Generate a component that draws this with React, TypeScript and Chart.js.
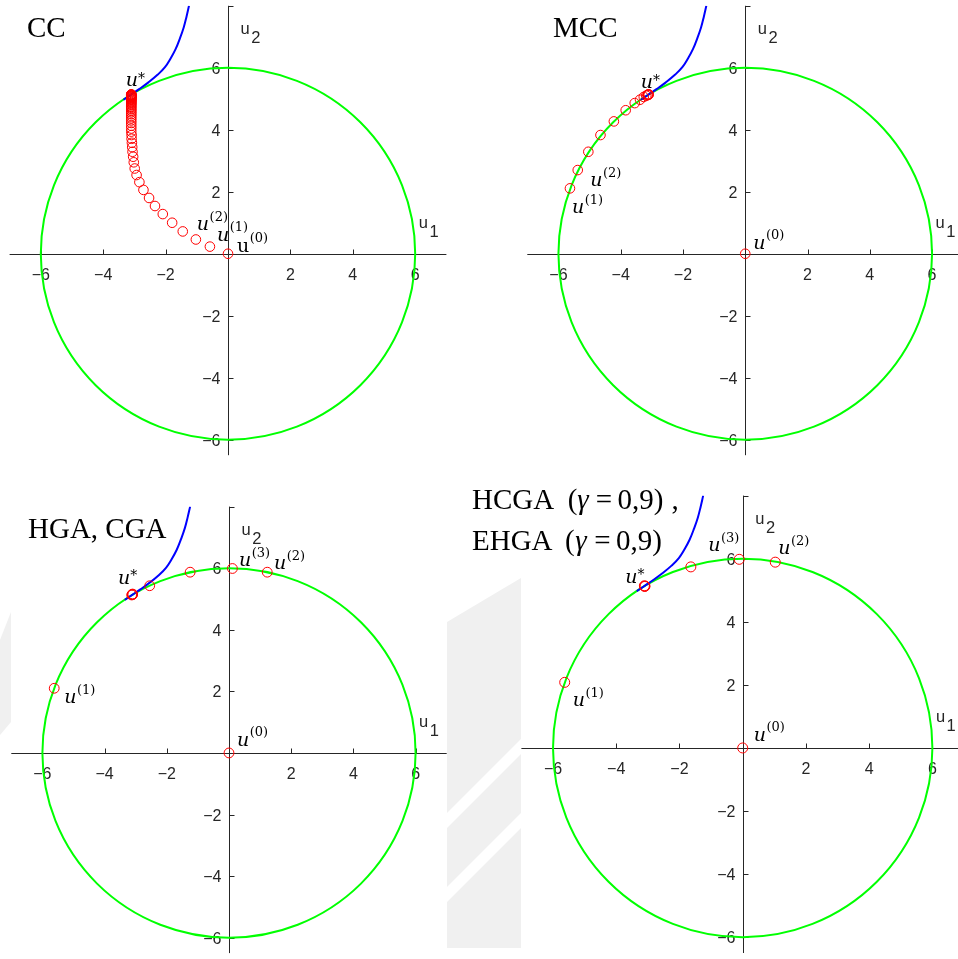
import React, { useEffect, useRef } from 'react';
import { Chart, registerables } from 'chart.js';

Chart.register(...registerables);

// ---------- axes ----------
const u1Limits = [-7, 7];
const u2Limits = [-6.5, 8];
const xTickValues = [-6, -4, -2, 2, 4, 6];
const yTickValues = [-6, -4, -2, 2, 4, 6];
const yTopTick = 8;
const constraintRadius = 6;

// ---------- level curve of the objective through u* ----------
const levelU1 = [-3.35, -3.1, -2.85, -2.55, -2.25, -2.02, -1.84, -1.68, -1.54, -1.42, -1.33, -1.25];
const levelU2 = [4.97, 5.14, 5.31, 5.53, 5.78, 6.02, 6.3, 6.6, 6.95, 7.3, 7.65, 8.0];

// ---------- iterates of each method ----------
const ccU1 = [
  0, -0.58, -1.03, -1.45, -1.79, -2.09, -2.34, -2.53, -2.71, -2.84,
  -2.93, -2.99, -3.02, -3.04, -3.06, -3.07, -3.08, -3.09, -3.09, -3.1,
  -3.1, -3.1, -3.1, -3.1, -3.1, -3.1, -3.1, -3.1, -3.1, -3.1,
  -3.1, -3.1, -3.1, -3.1, -3.1, -3.1, -3.1, -3.1, -3.1, -3.1,
  -3.1, -3.1, -3.1, -3.1, -3.1, -3.1, -3.1, -3.1, -3.1, -3.1,
  -3.1, -3.1, -3.1, -3.1,
];
const ccU2 = [
  0, 0.23, 0.46, 0.72, 1.0, 1.28, 1.54, 1.8, 2.06, 2.31,
  2.54, 2.75, 2.95, 3.13, 3.29, 3.44, 3.58, 3.71, 3.83, 3.94,
  4.04, 4.13, 4.22, 4.3, 4.37, 4.44, 4.5, 4.56, 4.61, 4.66,
  4.71, 4.75, 4.79, 4.83, 4.86, 4.89, 4.92, 4.945, 4.97, 4.99,
  5.01, 5.03, 5.045, 5.06, 5.075, 5.085, 5.095, 5.105, 5.115, 5.12,
  5.125, 5.13, 5.135, 5.14,
];

const mccU1 = [0, -5.63, -5.38, -5.04, -4.65, -4.22, -3.84, -3.55, -3.38, -3.26, -3.18, -3.14, -3.12, -3.11, -3.1];
const mccU2 = [0, 2.11, 2.7, 3.29, 3.83, 4.27, 4.63, 4.86, 4.97, 5.06, 5.1, 5.12, 5.13, 5.14, 5.14];

const hgaU1 = [0, -5.62, 1.23, 0.11, -1.25, -2.55, -3.13, -3.11, -3.1, -3.1];
const hgaU2 = [0, 2.1, 5.87, 5.99, 5.87, 5.43, 5.13, 5.15, 5.14, 5.16];

const hcgaU1 = [0, -5.63, 1.03, -0.11, -1.64, -3.09, -3.11, -3.1];
const hcgaU2 = [0, 2.08, 5.89, 5.98, 5.74, 5.13, 5.14, 5.12];

// ---------- drawing helpers ----------
type Pt = { x: number; y: number };
const zip = (a: number[], b: number[]): Pt[] => a.map((v, i) => ({ x: v, y: b[i] }));

interface IterLabel { idx: number; sup: string; dx: number; dy: number; upright?: boolean }
interface TitlePart { t: string; italic?: boolean; gap?: number }
interface TitleLine { x: number; y: number; parts: TitlePart[] }
interface PanelSpec {
  key: string;
  u1: number[];
  u2: number[];
  labels: IterLabel[];
  title: TitleLine[];
  box: { left: number; top: number; width: number; height: number };
  area: { left: number; top: number; right: number; bottom: number };
  markerRadius: number;
}

const INK = '#262626';
const TICK_FONT = '16px "Liberation Sans", Arial, sans-serif';
const AXIS_NAME_FONT = '16.5px "Liberation Sans", Arial, sans-serif';
const TITLE_SIZE = 29;
const MINUS = '\u2212';

const panels: PanelSpec[] = [
  {
    key: 'cc',
    u1: ccU1,
    u2: ccU2,
    labels: [
      { idx: 0, sup: '(0)', dx: 9, dy: -2, upright: true },
      { idx: 1, sup: '(1)', dx: 7, dy: -6 },
      { idx: 2, sup: '(2)', dx: 1, dy: -9 },
      { idx: -1, sup: '*', dx: -5.5, dy: -8 },
    ],
    title: [{ x: 27, y: 37, parts: [{ t: 'CC' }] }],
    box: { left: 0, top: 0, width: 479, height: 479 },
    area: { left: 9.6, top: 4.2, right: 446.4, bottom: 455.2 },
    markerRadius: 4.8,
  },
  {
    key: 'mcc',
    u1: mccU1,
    u2: mccU2,
    labels: [
      { idx: 0, sup: '(0)', dx: 8, dy: -5 },
      { idx: 1, sup: '(1)', dx: 2, dy: 25 },
      { idx: 2, sup: '(2)', dx: 12.5, dy: 16 },
      { idx: -1, sup: '*', dx: -8, dy: -6 },
    ],
    title: [{ x: 74, y: 37, parts: [{ t: 'MCC' }] }],
    box: { left: 479, top: 0, width: 490, height: 479 },
    area: { left: 527.3, top: 4.2, right: 964.1, bottom: 455.2 },
    markerRadius: 4.8,
  },
  {
    key: 'hga',
    u1: hgaU1,
    u2: hgaU2,
    labels: [
      { idx: 0, sup: '(0)', dx: 8, dy: -7 },
      { idx: 1, sup: '(1)', dx: 10, dy: 15 },
      { idx: 2, sup: '(2)', dx: 6.7, dy: -2.7 },
      { idx: 3, sup: '(3)', dx: 6.6, dy: -2 },
      { idx: -1, sup: '*', dx: -14.5, dy: -10.5 },
    ],
    title: [{ x: 28, y: 59, parts: [{ t: 'HGA, CGA' }] }],
    box: { left: 0, top: 479, width: 479, height: 480 },
    area: { left: 11.3, top: 506.6, right: 446.7, bottom: 956.8 },
    markerRadius: 4.9,
  },
  {
    key: 'hcga',
    u1: hcgaU1,
    u2: hcgaU2,
    labels: [
      { idx: 0, sup: '(0)', dx: 11, dy: -7 },
      { idx: 1, sup: '(1)', dx: 8, dy: 24 },
      { idx: 2, sup: '(2)', dx: 3, dy: -8 },
      { idx: 3, sup: '(3)', dx: -31, dy: -8 },
      { idx: -1, sup: '*', dx: -19.5, dy: -3.5 },
    ],
    title: [
      {
        x: 12, y: 30,
        parts: [
          { t: 'HCGA' }, { t: '(', gap: 13.5 }, { t: '\u03b3', italic: true }, { t: '=', gap: 7 },
          { t: '0,9)', gap: 5.5 }, { t: ',', gap: 8 },
        ],
      },
      {
        x: 12, y: 71,
        parts: [
          { t: 'EHGA' }, { t: '(', gap: 12.5 }, { t: '\u03b3', italic: true, gap: 0.5 }, { t: '=', gap: 7.5 },
          { t: '0,9)', gap: 5.5 },
        ],
      },
    ],
    box: { left: 460, top: 479, width: 510, height: 480 },
    area: { left: 521.4, top: 495.6, right: 966.6, bottom: 956.7 },
    markerRadius: 5,
  },
];

function fmt(v: number): string {
  return v < 0 ? MINUS + String(Math.abs(v)) : String(v);
}

function drawIterLabel(ctx: CanvasRenderingContext2D, x: number, y: number, sup: string, upright?: boolean) {
  ctx.fillStyle = '#000';
  ctx.textAlign = 'left';
  ctx.textBaseline = 'alphabetic';
  ctx.font = `${upright ? '' : 'italic '}19px "DejaVu Serif", serif`;
  ctx.fillText('u', x, y);
  const w = ctx.measureText('u').width;
  if (sup === '*') {
    ctx.font = '14px "DejaVu Serif", serif';
    ctx.fillText('*', x + w, y - 3.5);
  } else {
    ctx.font = '13px "DejaVu Serif", serif';
    ctx.fillText(sup, x + w + 0.5, y - 9.5);
  }
}

function drawAxisName(ctx: CanvasRenderingContext2D, x: number, y: number, sub: string) {
  ctx.fillStyle = INK;
  ctx.textAlign = 'left';
  ctx.textBaseline = 'alphabetic';
  ctx.font = AXIS_NAME_FONT;
  ctx.fillText('u', x, y);
  const w = ctx.measureText('u').width;
  ctx.fillText(sub, x + w + 1.5, y + 9);
}

const Panel: React.FC<{ spec: PanelSpec }> = ({ spec }) => {
  const ref = useRef<HTMLCanvasElement>(null);

  useEffect(() => {
    const canvas = ref.current;
    if (!canvas) return;
    const { box, area } = spec;
    const padding = {
      left: area.left - box.left,
      top: area.top - box.top,
      right: box.left + box.width - area.right,
      bottom: box.top + box.height - area.bottom,
    };

    // white axes box
    const axesBackground = {
      id: 'axesBackground',
      beforeDraw(chart: any) {
        const { ctx, chartArea: a } = chart;
        ctx.save();
        ctx.fillStyle = '#ffffff';
        ctx.fillRect(a.left, a.top, a.right - a.left, a.bottom - a.top);
        ctx.restore();
      },
    };

    // axes through the origin, ticks, tick labels and the constraint circle
    const originAxes = {
      id: 'originAxes',
      beforeDatasetsDraw(chart: any) {
        const { ctx } = chart;
        const sx = chart.scales.x;
        const sy = chart.scales.y;
        const x0 = Math.round(sx.getPixelForValue(0)) + 0.5;
        const y0 = Math.round(sy.getPixelForValue(0)) + 0.5;
        ctx.save();
        ctx.strokeStyle = INK;
        ctx.lineWidth = 1;
        ctx.beginPath();
        ctx.moveTo(sx.getPixelForValue(u1Limits[0]), y0);
        ctx.lineTo(sx.getPixelForValue(u1Limits[1]), y0);
        ctx.moveTo(x0, sy.getPixelForValue(u2Limits[1]));
        ctx.lineTo(x0, sy.getPixelForValue(u2Limits[0]));
        for (const v of xTickValues) {
          const px = Math.round(sx.getPixelForValue(v)) + 0.5;
          ctx.moveTo(px, y0);
          ctx.lineTo(px, y0 - 5);
        }
        for (const v of [...yTickValues, yTopTick]) {
          const py = Math.round(sy.getPixelForValue(v)) + 0.5;
          ctx.moveTo(x0, py);
          ctx.lineTo(x0 + 5, py);
        }
        ctx.stroke();

        ctx.fillStyle = INK;
        ctx.font = TICK_FONT;
        ctx.textBaseline = 'alphabetic';
        ctx.textAlign = 'center';
        for (const v of xTickValues) {
          ctx.fillText(fmt(v), sx.getPixelForValue(v), y0 + 25.5);
        }
        ctx.textAlign = 'right';
        for (const v of yTickValues) {
          ctx.fillText(fmt(v), x0 - 8, sy.getPixelForValue(v) + 6);
        }

        // constraint circle |u| = 6
        const cx = sx.getPixelForValue(0);
        const cy = sy.getPixelForValue(0);
        const rx = sx.getPixelForValue(constraintRadius) - cx;
        const ry = cy - sy.getPixelForValue(constraintRadius);
        ctx.strokeStyle = '#00ff00';
        ctx.lineWidth = 2;
        ctx.beginPath();
        ctx.ellipse(cx, cy, rx, ry, 0, 0, Math.PI * 2);
        ctx.stroke();
        ctx.restore();
      },
    };

    // method title, axis names and iterate labels
    const annotations = {
      id: 'annotations',
      afterDatasetsDraw(chart: any) {
        const { ctx } = chart;
        const sx = chart.scales.x;
        const sy = chart.scales.y;
        ctx.save();
        ctx.fillStyle = '#000';
        ctx.textAlign = 'left';
        ctx.textBaseline = 'alphabetic';
        for (const line of spec.title) {
          let cx = line.x;
          for (const p of line.parts) {
            cx += p.gap ?? 0;
            ctx.font = `${p.italic ? 'italic ' : ''}${TITLE_SIZE}px "Liberation Serif", "Times New Roman", serif`;
            ctx.fillText(p.t, cx, line.y);
            cx += ctx.measureText(p.t).width;
          }
        }

        const x0 = sx.getPixelForValue(0);
        const y0 = sy.getPixelForValue(0);
        drawAxisName(ctx, sx.getPixelForValue(6) + 3.5, y0 - 25.5, '1');
        drawAxisName(ctx, x0 + 12.5, sy.getPixelForValue(u2Limits[1]) + 28, '2');

        for (const lb of spec.labels) {
          const i = lb.idx < 0 ? spec.u1.length + lb.idx : lb.idx;
          const px = sx.getPixelForValue(spec.u1[i]);
          const py = sy.getPixelForValue(spec.u2[i]);
          drawIterLabel(ctx, px + lb.dx, py + lb.dy, lb.sup, lb.upright);
        }
        ctx.restore();
      },
    };

    const chart = new Chart(canvas, {
      type: 'scatter',
      data: {
        datasets: [
          {
            label: 'level curve',
            data: zip(levelU1, levelU2),
            showLine: true,
            borderColor: '#0000ff',
            borderWidth: 2,
            pointRadius: 0,
            tension: 0.4,
            order: 2,
          },
          {
            label: 'iterates',
            data: zip(spec.u1, spec.u2),
            showLine: false,
            pointStyle: 'circle',
            pointRadius: spec.markerRadius,
            pointBorderColor: '#ff0000',
            pointBackgroundColor: 'rgba(0,0,0,0)',
            pointBorderWidth: 1,
            borderColor: '#ff0000',
            backgroundColor: 'rgba(0,0,0,0)',
            order: 1,
          },
        ],
      } as any,
      options: {
        animation: false,
        responsive: false,
        maintainAspectRatio: false,
        devicePixelRatio: 1,
        events: [],
        layout: { padding },
        scales: {
          x: { type: 'linear', min: u1Limits[0], max: u1Limits[1], display: false },
          y: { type: 'linear', min: u2Limits[0], max: u2Limits[1], display: false },
        },
        plugins: { legend: { display: false }, tooltip: { enabled: false }, title: { display: false } },
      } as any,
      plugins: [axesBackground, originAxes, annotations],
    });

    return () => chart.destroy();
  }, [spec]);

  return (
    <canvas
      ref={ref}
      width={spec.box.width}
      height={spec.box.height}
      style={{
        position: 'absolute',
        left: spec.box.left,
        top: spec.box.top,
        width: spec.box.width,
        height: spec.box.height,
      }}
    />
  );
};

export default function App() {
  return (
    <div
      style={{
        position: 'fixed',
        left: 0,
        top: 0,
        width: 958,
        height: 959,
        overflow: 'hidden',
        background: '#ffffff',
      }}
    >
      <svg width={958} height={959} style={{ position: 'absolute', left: 0, top: 0 }}>
        <polygon points="447,622 521,578 521,948 447,948" fill="#f0f0f0" />
        <polygon points="447,813 521,739 521,754 447,828" fill="#ffffff" />
        <polygon points="447,887 521,813 521,828 447,902" fill="#ffffff" />
        <polygon points="0,640 11,612 11,722 0,735" fill="#f0f0f0" />
      </svg>
      {panels.map((p) => (
        <Panel key={p.key} spec={p} />
      ))}
    </div>
  );
}
